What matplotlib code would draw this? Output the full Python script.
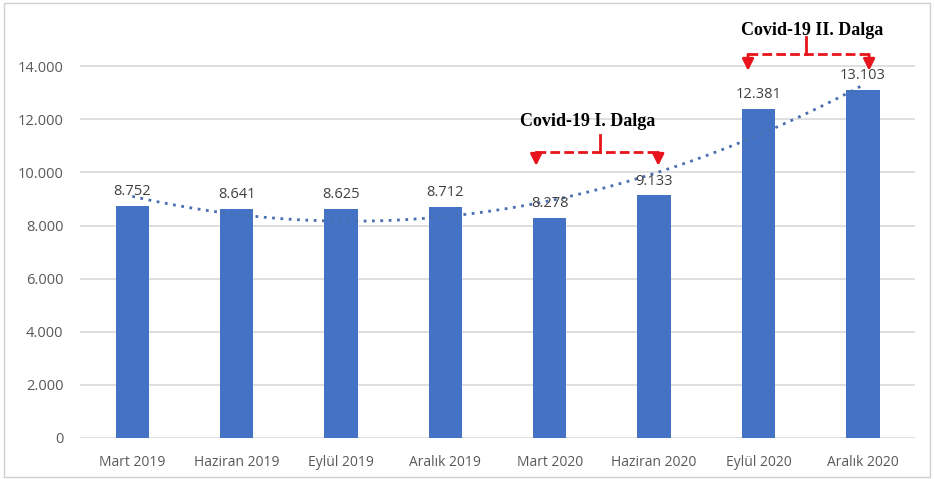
import numpy as np
import matplotlib.pyplot as plt
from matplotlib.ticker import FuncFormatter
from matplotlib.patches import Rectangle

# Çeyreklik değerler
donemler = ['Mart 2019', 'Haziran 2019', 'Eylül 2019', 'Aralık 2019',
            'Mart 2020', 'Haziran 2020', 'Eylül 2020', 'Aralık 2020']
degerler = [8752, 8641, 8625, 8712, 8278, 9133, 12381, 13103]
y_ticks = [0, 2000, 4000, 6000, 8000, 10000, 12000, 14000]

BAR_COLOR = '#4472c4'
TEXT_COLOR = '#595959'
GRID_COLOR = '#d9d9d9'
ANNOT_RED = '#e8141b'

plt.rcParams['font.family'] = ['Open Sans', 'DejaVu Sans']


def binlik(v, _pos=None):
    # 14000 -> "14.000"
    return f'{int(v):,}'.replace(',', '.')


fig = plt.figure(figsize=(9.34, 4.79), dpi=100)
ax = fig.add_axes([0.0857, 0.0856, 0.894, 0.887])

x = np.arange(len(donemler))
bars = ax.bar(x, degerler, width=0.32, color=BAR_COLOR, zorder=2)

# değer etiketleri
for xi, v in zip(x, degerler):
    ax.annotate(binlik(v), (xi, v), xytext=(0, 5), textcoords='offset points',
                ha='center', va='bottom', fontsize=10.5, color='#404040', zorder=4)

# polinom eğilim çizgisi (2. derece)
coef = np.polyfit(x + 1, degerler, 2)
xs = np.linspace(0, len(x) - 1, 200)
ax.plot(xs, np.polyval(coef, xs + 1), linestyle=(0, (1, 2)), lw=2,
        color='#4a6eb0', zorder=3)

ax.set_xlim(-0.5, len(x) - 0.5)
ax.set_ylim(0, 16000)
ax.set_yticks(y_ticks)
ax.yaxis.set_major_formatter(FuncFormatter(binlik))
ax.set_xticks(x)
ax.set_xticklabels(donemler)
ax.tick_params(axis='both', length=0, labelsize=10, colors=TEXT_COLOR)
ax.tick_params(axis='y', pad=12, labelsize=10.5)
ax.tick_params(axis='x', pad=12)
for yt in y_ticks:
    ax.axhline(yt, color=GRID_COLOR, lw=1.2, zorder=1)
for s in ax.spines.values():
    s.set_visible(False)


def dalga_isareti(metin, x_sol, x_sag, x_orta, x_metin, y_cizgi, y_ok, y_sap, y_metin):
    kw = dict(color=ANNOT_RED, lw=2, linestyle=(0, (3.5, 1.5)), zorder=5)
    ax.plot([x_sol, x_sag], [y_cizgi, y_cizgi], clip_on=False, **kw)
    ax.plot([x_orta, x_orta], [y_cizgi, y_sap], clip_on=False,
            color=ANNOT_RED, lw=2, zorder=5)
    for xa in (x_sol, x_sag):
        ax.annotate('', xy=(xa, y_ok), xytext=(xa, y_cizgi),
                    arrowprops=dict(arrowstyle='-|>', color=ANNOT_RED, lw=2,
                                    mutation_scale=17, shrinkA=0, shrinkB=0),
                    annotation_clip=False, zorder=5)
    ax.text(x_metin, y_metin, metin, ha='center', va='center', fontsize=13,
            fontweight='bold', family='Liberation Serif', color='black',
            zorder=6)


dalga_isareti('Covid-19 I. Dalga', 3.87, 5.04, 4.48, 4.36,
              10760, 10250, 11400, 11900)
dalga_isareti('Covid-19 II. Dalga', 5.90, 7.06, 6.46, 6.51,
              14450, 13830, 15090, 15360)

# dış çerçeve
fig.patches.append(Rectangle((0.004, 0.004), 0.992, 0.99, transform=fig.transFigure,
                             fill=False, edgecolor='#d0d0d0', lw=1))

fig.savefig('out.png', dpi=100)
